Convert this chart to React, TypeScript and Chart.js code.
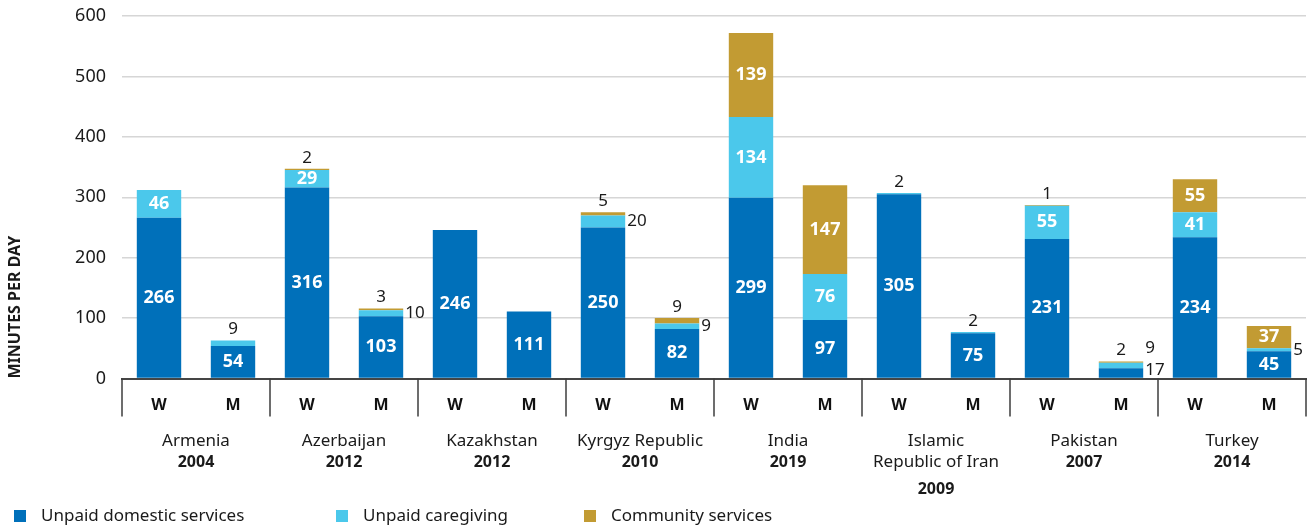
import { useEffect, useRef } from "react";
import { Chart, registerables } from "chart.js";

Chart.register(...registerables);

// ---- data ----
const BAR_LABELS = ["W", "M", "W", "M", "W", "M", "W", "M", "W", "M", "W", "M", "W", "M", "W", "M"];
const COUNTRIES = ["Armenia", "Azerbaijan", "Kazakhstan", "Kyrgyz Republic", "India", "Islamic", "Pakistan", "Turkey"];
const SECOND_LINE = ["2004", "2012", "2012", "2010", "2019", "Republic of Iran", "2007", "2014"];
const THIRD_LINE = ["", "", "", "", "", "2009", "", ""];
const SERIES_NAMES = ["Unpaid domestic services", "Unpaid caregiving", "Community services"];
const DOMESTIC = [266, 54, 316, 103, 246, 111, 250, 82, 299, 97, 305, 75, 231, 17, 234, 45];
const CAREGIVING = [46, 9, 29, 10, 0, 0, 20, 9, 134, 76, 2, 2, 55, 9, 41, 5];
const COMMUNITY = [0, 0, 2, 3, 0, 0, 5, 9, 139, 147, 0, 0, 1, 2, 55, 37];
const Y_MIN = 0;
const Y_MAX = 600;
const Y_STEP = 100;

// ---- styles ----
const COLORS = ["#0070BA", "#4BC8EB", "#C29B33"];
const FONT = '"Noto Sans", "DejaVu Sans", sans-serif';
const TEXT = "#1a1a1a";
const LEGEND_X = [14, 336, 584];
const SEPARATOR_LEN = 38;

const valueLabels = {
  id: "valueLabels",
  afterDatasetsDraw(chart: any) {
    const ctx = chart.ctx;
    const ds = chart.data.datasets;
    const n = chart.data.labels.length;
    const zero = chart.scales.y.getPixelForValue(0);
    for (let j = 0; j < n; j++) {
      let topIdx = -1;
      for (let i = 0; i < ds.length; i++) if (ds[i].data[j]) topIdx = i;
      let lastRightY: number | null = null;
      for (let i = 0; i < ds.length; i++) {
        const v = ds[i].data[j];
        if (!v) continue;
        const el = chart.getDatasetMeta(i).data[j];
        const { x, y, base, width } = el.getProps(["x", "y", "base", "width"], true);
        const mid = (y + base) / 2;
        ctx.save();
        ctx.textBaseline = "middle";
        if (v >= 25) {
          ctx.font = `bold 18px ${FONT}`;
          ctx.fillStyle = "#ffffff";
          ctx.textAlign = "center";
          ctx.fillText(String(v), x, mid);
        } else if (i === topIdx) {
          ctx.font = `17px ${FONT}`;
          ctx.fillStyle = TEXT;
          ctx.textAlign = "center";
          ctx.fillText(String(v), x, y - 11);
        } else {
          let ly = Math.min(mid, zero - 8);
          if (lastRightY !== null && lastRightY - ly < 20) ly = lastRightY - 22;
          ctx.font = `17px ${FONT}`;
          ctx.fillStyle = TEXT;
          ctx.textAlign = "left";
          ctx.fillText(String(v), x + width / 2 + 2, ly);
          lastRightY = ly;
        }
        ctx.restore();
      }
    }
  },
};

const groupSeparators = {
  id: "groupSeparators",
  afterDraw(chart: any) {
    const x = chart.scales.x;
    const n = chart.data.labels.length;
    const per = n / COUNTRIES.length;
    const ctx = chart.ctx;
    ctx.save();
    ctx.strokeStyle = "#3c3c3c";
    ctx.lineWidth = 1.5;
    for (let b = 0; b <= n; b += per) {
      const px =
        b === 0 ? x.left : b === n ? x.right : (x.getPixelForTick(b - 1) + x.getPixelForTick(b)) / 2;
      ctx.beginPath();
      ctx.moveTo(px, x.top);
      ctx.lineTo(px, x.top + SEPARATOR_LEN);
      ctx.stroke();
    }
    ctx.restore();
  },
};

const customLegend = {
  id: "customLegend",
  afterDraw(chart: any) {
    const ctx = chart.ctx;
    const y = chart.height - 13;
    ctx.save();
    chart.data.datasets.forEach((d: any, i: number) => {
      ctx.fillStyle = d.backgroundColor;
      ctx.fillRect(LEGEND_X[i], y - 6, 12, 12);
      ctx.fillStyle = TEXT;
      ctx.font = `17px ${FONT}`;
      ctx.textBaseline = "middle";
      ctx.textAlign = "left";
      ctx.fillText(d.label, LEGEND_X[i] + 27, y);
    });
    ctx.restore();
  },
};

const groupAxis = (labels: string[], padding: number, font: any) => ({
  type: "category",
  labels,
  offset: true,
  position: "bottom",
  grid: { display: false, drawTicks: false },
  border: { display: false },
  ticks: {
    autoSkip: false,
    maxRotation: 0,
    minRotation: 0,
    padding,
    color: TEXT,
    font,
  },
});

export default function App() {
  const ref = useRef<HTMLCanvasElement>(null);

  useEffect(() => {
    if (!ref.current) return;
    Chart.defaults.font.family = FONT;
    const chart = new Chart(ref.current, {
      type: "bar",
      data: {
        labels: BAR_LABELS,
        datasets: [DOMESTIC, CAREGIVING, COMMUNITY].map((vals, i) => ({
          label: SERIES_NAMES[i],
          data: vals,
          backgroundColor: COLORS[i],
          borderWidth: 0,
          xAxisID: "x",
          yAxisID: "y",
          categoryPercentage: 1,
          barPercentage: 0.6,
        })),
      },
      options: {
        animation: false,
        responsive: false,
        devicePixelRatio: 1,
        layout: { padding: { top: 16, right: 3, bottom: 24.5, left: 0 } },
        plugins: {
          legend: { display: false },
          tooltip: { enabled: false },
        },
        scales: {
          x: {
            type: "category",
            stacked: true,
            offset: true,
            position: "bottom",
            z: 1,
            grid: { display: false, drawTicks: false },
            border: { display: true, color: "#454545", width: 2 },
            ticks: {
              autoSkip: false,
              maxRotation: 0,
              minRotation: 0,
              padding: 16.9,
              color: "#111",
              font: { size: 16, weight: "bold", lineHeight: 1.2 },
            },
          },
          x2: groupAxis(COUNTRIES, 1.5, { size: 17, lineHeight: 1 }),
          x3: groupAxis(SECOND_LINE, 2.5, (c: any) =>
            c.index === 5
              ? { size: 17, weight: "normal", lineHeight: 1 }
              : { size: 16, weight: "bold", lineHeight: 17 / 16 }
          ),
          x4: groupAxis(THIRD_LINE, 7, { size: 16, weight: "bold", lineHeight: 17 / 16 }),
          y: {
            stacked: true,
            min: Y_MIN,
            max: Y_MAX,
            afterFit: (s: any) => {
              s.width = 122;
              s.paddingTop = 0;
              s.paddingBottom = 0;
            },
            grid: {
              drawTicks: false,
              color: (c: any) => (c.tick && c.tick.value === 0 ? "rgba(0,0,0,0)" : "#d6d6d6"),
              lineWidth: 1.5,
            },
            border: { display: false },
            ticks: {
              stepSize: Y_STEP,
              padding: 16,
              color: TEXT,
              font: { size: 18 },
            },
            title: {
              display: true,
              text: "MINUTES PER DAY",
              align: "start",
              color: TEXT,
              font: { size: 16, weight: "bold", lineHeight: 1.2 },
              padding: { top: 6, bottom: 0 },
            },
          },
        },
      },
      plugins: [valueLabels, groupSeparators, customLegend],
    } as any);
    return () => chart.destroy();
  }, []);

  return (
    <div style={{ position: "fixed", left: 0, top: 0, width: 1309, height: 529, background: "#fff" }}>
      <canvas ref={ref} width={1309} height={529} style={{ display: "block" }} />
    </div>
  );
}
